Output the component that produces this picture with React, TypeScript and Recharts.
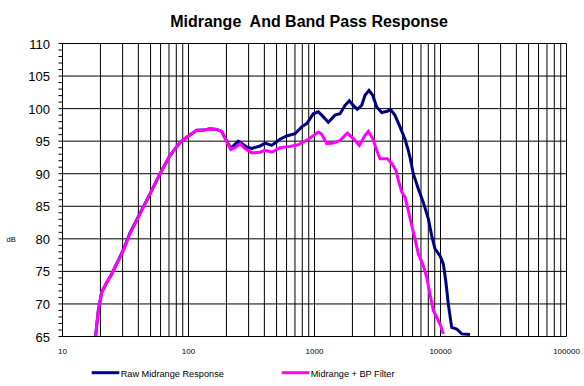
import React from "react";
import { LineChart, Line, XAxis, YAxis, ReferenceLine } from "recharts";

// Midrange + BP filter response (magenta)
const bpFreq = [18.3, 19.24, 20.47, 22.43, 24.58, 26.93, 30.38, 34.34, 41.22, 49.49, 59.39, 71.31, 85.6, 96.7, 116.2, 131.1, 148.1, 167.4, 183.4, 201.1, 216.3, 233.9, 256.3, 280.8, 317.4, 369.4, 404.6, 457.5, 532.3, 639.1, 743.6, 892.9, 1072, 1141, 1250, 1410, 1594, 1821, 2032, 2268, 2517, 2673, 2897, 3116, 3311, 3783, 4100, 4435, 4626, 4922, 5227, 5552, 5907, 6276, 6665, 7224, 7772, 8253, 8768, 9329, 10037, 10525];
const bpDb = [65, 69.0, 71.8, 73.3, 74.6, 76.15, 78.2, 80.8, 83.8, 86.9, 90.0, 92.8, 94.8, 95.6, 96.67, 96.67, 96.9, 96.8, 96.5, 94.9, 93.7, 94.0, 94.6, 93.85, 93.2, 93.3, 93.6, 93.3, 94.0, 94.2, 94.45, 95.3, 96.4, 96.05, 94.6, 94.7, 95.1, 96.25, 95.4, 94.35, 95.9, 96.5, 95.4, 93.6, 92.3, 92.3, 91.6, 90.5, 89.0, 87.2, 86.4, 84.35, 82.05, 80.0, 77.7, 76.15, 74.1, 71.5, 69.0, 67.95, 66.65, 65.4];

// Raw midrange response (navy)
const rawFreq = [18.3, 19.24, 20.47, 22.43, 24.58, 26.93, 30.38, 34.34, 41.22, 49.49, 59.39, 71.31, 85.6, 96.7, 116.2, 131.1, 148.1, 167.4, 183.4, 201.1, 216.3, 248.5, 289.7, 317.4, 369.4, 404.6, 457.5, 532.3, 601.6, 700.1, 791.3, 867.3, 978.4, 1072, 1141, 1287, 1455, 1594, 1747, 1889, 2032, 2186, 2369, 2517, 2706, 2897, 3116, 3415, 3783, 4025, 4355, 4770, 5227, 5552, 5728, 6083, 6665, 7304, 8003, 8514, 9045, 9909, 10525, 10998, 11533, 12270, 13448, 14735, 17143];
const rawDb = [65, 69.0, 71.8, 73.3, 74.6, 76.2, 78.3, 80.9, 83.9, 86.9, 90.0, 92.8, 94.8, 95.6, 96.67, 96.7, 96.9, 96.8, 96.5, 95.0, 93.9, 95.0, 94.1, 93.9, 94.25, 94.7, 94.35, 95.3, 95.8, 96.15, 97.2, 97.7, 99.2, 99.5, 99.0, 97.9, 99.0, 99.2, 100.5, 101.2, 100.5, 99.9, 100.5, 102.05, 102.8, 102.05, 100.25, 99.4, 99.6, 99.85, 98.97, 97.2, 95.3, 93.6, 92.5, 90.0, 87.7, 85.6, 83.1, 80.5, 78.45, 77.4, 76.15, 73.6, 70.0, 66.4, 66.15, 65.4, 65.3];

const xTicks = [10, 100, 1000, 10000, 100000];
const yMajorTicks = [65, 70, 75, 80, 85, 90, 95, 100, 105, 110];
const yMinorTicks = [65, 66, 67, 68, 69, 70, 71, 72, 73, 74, 75, 76, 77, 78, 79, 80, 81, 82, 83, 84, 85, 86, 87, 88, 89, 90, 91, 92, 93, 94, 95, 96, 97, 98, 99, 100, 101, 102, 103, 104, 105, 106, 107, 108, 109, 110];
const decades = [10, 100, 1000, 10000];
const multipliers = [2, 3, 4, 5, 6, 7, 8, 9, 10];
const gridFreqs = decades.flatMap((d) => multipliers.map((m) => d * m)).filter((f) => f < 100000);
const rightTicks = Array.from({ length: 28 }, (_, k) => 65 + (k * 5) / 3);

const rawData = rawFreq.map((f, i) => ({ f, db: rawDb[i] }));
const bpData = bpFreq.map((f, i) => ({ f, db: bpDb[i] }));

const FONT = "'Liberation Sans', Arial, sans-serif";
const NAVY = "#000080";
const MAGENTA = "#FF00FF";

const YTick = (props: any) => {
  const { x, y, payload } = props;
  if (payload.value % 5 !== 0) return <g />;
  return (
    <text x={x} y={y + 5} textAnchor="end" fontSize={13} fontFamily={FONT} fill="#000">
      {payload.value}
    </text>
  );
};

const XTick = (props: any) => {
  const { x, y, payload } = props;
  return (
    <text x={x} y={y + 9} textAnchor="middle" fontSize={8} fontFamily={FONT} fill="#000">
      {payload.value}
    </text>
  );
};

export default function App() {
  return (
    <div style={{ position: "absolute", left: 0, top: 0, width: 584, height: 386, background: "#fff" }}>
      <LineChart
        width={584}
        height={386}
        margin={{ top: 43.5, right: 7.5, bottom: 29.5, left: 8.5 }}
      >
        <XAxis
          dataKey="f"
          type="number"
          scale="log"
          domain={[10, 100000]}
          allowDataOverflow
          ticks={xTicks}
          interval={0}
          tickLine={false}
          tickSize={4}
          tickMargin={4}
          height={20}
          axisLine={{ stroke: "#000" }}
          tick={<XTick />}
        />
        <YAxis
          yAxisId="L"
          type="number"
          domain={[65, 110]}
          allowDataOverflow
          ticks={yMinorTicks}
          interval={0}
          width={54}
          tickSize={4}
          tickMargin={8.5}
          tickLine={{ stroke: "#000" }}
          axisLine={{ stroke: "#000" }}
          tick={<YTick />}
        />
        <YAxis
          yAxisId="R"
          orientation="right"
          type="number"
          domain={[65, 110]}
          allowDataOverflow
          ticks={rightTicks}
          interval={0}
          width={10}
          tickSize={4}
          tick={false}
          tickLine={{ stroke: "#000" }}
          axisLine={{ stroke: "#000" }}
        />
        {yMajorTicks.filter((v) => v > 65).map((v) => (
          <ReferenceLine key={"h" + v} yAxisId="L" y={v} stroke="#000" strokeWidth={1} />
        ))}
        {gridFreqs.map((f) => (
          <ReferenceLine key={"v" + f} yAxisId="L" x={f} stroke="#000" strokeWidth={1} />
        ))}
        <Line
          yAxisId="L"
          data={rawData}
          dataKey="db"
          type="linear"
          stroke={NAVY}
          strokeWidth={3}
          dot={false}
          isAnimationActive={false}
          name="Raw Midrange Response"
        />
        <Line
          yAxisId="L"
          data={bpData}
          dataKey="db"
          type="linear"
          stroke={MAGENTA}
          strokeWidth={3}
          dot={false}
          isAnimationActive={false}
          name="Midrange + BP Filter"
        />
      </LineChart>
      <svg
        width={584}
        height={386}
        style={{ position: "absolute", left: 0, top: 0, pointerEvents: "none" }}
      >
        <text x={309} y={27} textAnchor="middle" fontSize={16} fontWeight="bold" fontFamily={FONT} fill="#000" style={{ whiteSpace: "pre" }}>
          {"Midrange  And Band Pass Response"}
        </text>
        <text x={6.5} y={242} fontSize={7.5} fontFamily={FONT} fill="#000">dB</text>
        <line x1={91.7} y1={372.7} x2={119.3} y2={372.7} stroke={NAVY} strokeWidth={3} />
        <text x={120.7} y={376.7} fontSize={9.2} fontFamily={FONT} fill="#000">Raw Midrange Response</text>
        <line x1={281.7} y1={372.7} x2={309.3} y2={372.7} stroke={MAGENTA} strokeWidth={3} />
        <text x={310.7} y={376.7} fontSize={9.2} fontFamily={FONT} fill="#000">Midrange + BP Filter</text>
      </svg>
    </div>
  );
}
